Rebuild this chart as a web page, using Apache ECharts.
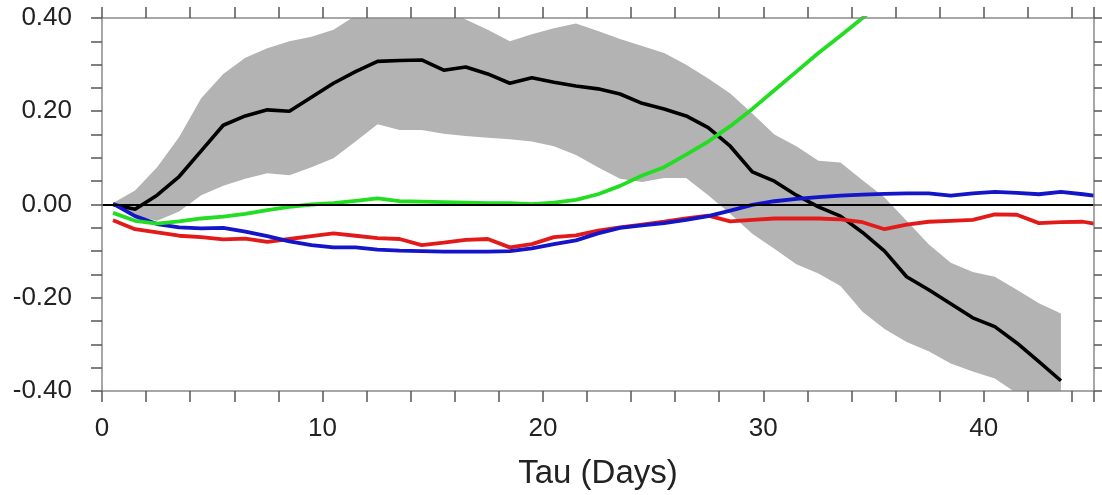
<!DOCTYPE html>
<html>
<head>
<meta charset="utf-8">
<script src="https://cdn.jsdelivr.net/npm/echarts@6/dist/echarts.min.js"></script>
<style>
  html, body { margin: 0; padding: 0; background: #fff; }
  #chart { width: 1102px; height: 495px; }
</style>
</head>
<body>
<div id="chart"></div>
<script>
// lag (days)
var tau = [0.5, 1.5, 2.5, 3.5, 4.5, 5.5, 6.5, 7.5, 8.5, 9.5,
	10.5, 11.5, 12.5, 13.5, 14.5, 15.5, 16.5, 17.5, 18.5, 19.5,
	20.5, 21.5, 22.5, 23.5, 24.5, 25.5, 26.5, 27.5, 28.5, 29.5,
	30.5, 31.5, 32.5, 33.5, 34.5, 35.5, 36.5, 37.5, 38.5, 39.5,
	40.5, 41.5, 42.5, 43.5, 44.5, 45];

var blackLine = [0.000, -0.010, 0.020, 0.060, 0.115, 0.170, 0.190, 0.203, 0.200, 0.230,
	0.260, 0.285, 0.307, 0.309, 0.310, 0.288, 0.295, 0.280, 0.260, 0.272,
	0.262, 0.254, 0.248, 0.237, 0.217, 0.205, 0.190, 0.165, 0.125, 0.070,
	0.050, 0.020, -0.005, -0.025, -0.060, -0.100, -0.155, -0.183, -0.213, -0.243,
	-0.262, -0.297, -0.337, -0.378];

var shadeUpper = [0.003, 0.030, 0.080, 0.145, 0.228, 0.280, 0.315, 0.335, 0.350, 0.360,
	0.375, 0.405, 0.430, 0.440, 0.440, 0.420, 0.397, 0.375, 0.350, 0.365,
	0.378, 0.388, 0.372, 0.355, 0.340, 0.325, 0.300, 0.270, 0.238, 0.195,
	0.150, 0.125, 0.094, 0.090, 0.052, 0.015, -0.035, -0.085, -0.125, -0.145,
	-0.155, -0.183, -0.212, -0.234];

var shadeLower = [-0.003, -0.025, -0.035, -0.015, 0.020, 0.040, 0.055, 0.067, 0.063, 0.080,
	0.099, 0.135, 0.172, 0.160, 0.160, 0.152, 0.147, 0.143, 0.140, 0.135,
	0.125, 0.106, 0.080, 0.055, 0.048, 0.057, 0.057, 0.020, -0.020, -0.063,
	-0.095, -0.128, -0.148, -0.175, -0.230, -0.267, -0.295, -0.315, -0.341, -0.358,
	-0.373, -0.405, -0.440, -0.470];

var greenLine = [-0.018, -0.035, -0.041, -0.036, -0.030, -0.026, -0.020, -0.012, -0.005, 0.000,
	0.003, 0.008, 0.013, 0.007, 0.006, 0.005, 0.004, 0.003, 0.003, 0.001,
	0.004, 0.010, 0.022, 0.040, 0.062, 0.080, 0.107, 0.135, 0.168, 0.205,
	0.245, 0.285, 0.325, 0.362, 0.400, 0.440];

var redLine = [-0.034, -0.053, -0.060, -0.067, -0.070, -0.075, -0.073, -0.080, -0.074, -0.068,
	-0.062, -0.067, -0.072, -0.074, -0.087, -0.082, -0.076, -0.074, -0.092, -0.085,
	-0.070, -0.066, -0.056, -0.049, -0.043, -0.037, -0.030, -0.024, -0.036, -0.033,
	-0.030, -0.030, -0.030, -0.032, -0.038, -0.053, -0.043, -0.037, -0.035, -0.033,
	-0.021, -0.022, -0.040, -0.038, -0.037, -0.041];

var blueLine = [0.002, -0.025, -0.042, -0.049, -0.051, -0.050, -0.058, -0.068, -0.079, -0.087,
	-0.092, -0.092, -0.097, -0.099, -0.100, -0.101, -0.101, -0.101, -0.100, -0.094,
	-0.085, -0.077, -0.062, -0.050, -0.045, -0.040, -0.033, -0.025, -0.013, -0.001,
	0.007, 0.012, 0.016, 0.019, 0.021, 0.023, 0.024, 0.024, 0.019, 0.024,
	0.027, 0.025, 0.022, 0.027, 0.022, 0.019];

function pairs(vals) {
	var out = [];
	for (var i = 0; i < vals.length; i++) out.push([tau[i], vals[i]]);
	return out;
}

var fontFam = '"Liberation Sans", Arial, Helvetica, sans-serif';
var axisCol = '#8a8a8a', tickCol = '#555';

var myChart = echarts.init(document.getElementById('chart'), null, { renderer: 'canvas' });

function xAx(pos, labels) {
	return {
		type: 'value', position: pos, min: 0, max: 45, interval: 2, z: 10,
		axisLine: { show: true, onZero: false, lineStyle: { color: axisCol, width: 1.5 } },
		axisTick: { show: true, inside: false, length: 11, lineStyle: { color: tickCol, width: 1.5 } },
		splitLine: { show: false },
		axisLabel: {
			show: labels, margin: 25, fontSize: 26, color: '#222', fontFamily: fontFam,
			formatter: function (v) { return v % 10 === 0 ? String(v) : ''; }
		},
		name: labels ? 'Tau (Days)' : '',
		nameLocation: 'middle', nameGap: 66,
		nameTextStyle: { fontSize: 33, color: '#222', fontFamily: fontFam }
	};
}

function yAx(pos, labels) {
	return {
		type: 'value', position: pos, min: -0.4, max: 0.4, interval: 0.05, z: 10,
		axisLine: { show: true, onZero: false, lineStyle: { color: axisCol, width: 1.5 } },
		axisTick: { show: true, inside: false, length: 11, lineStyle: { color: tickCol, width: 1.5 } },
		splitLine: { show: false },
		axisLabel: {
			show: labels, margin: 30, fontSize: 26, color: '#222', fontFamily: fontFam,
			formatter: function (v) {
				return Math.round(Math.abs(v) * 100) % 20 === 0 ? v.toFixed(2) : '';
			}
		}
	};
}

option = {
	animation: false,
	backgroundColor: '#fff',
	grid: { left: 102, right: 8, top: 18, bottom: 104 },
	xAxis: [xAx('bottom', true), xAx('top', false)],
	yAxis: [yAx('left', true), yAx('right', false)],
	series: [
		// gray band: upper bound filled down, then lower bound filled white
		{
			name: 'upper', type: 'line', data: pairs(shadeUpper), symbol: 'none',
			lineStyle: { width: 0, opacity: 0 },
			areaStyle: { color: '#b3b3b3', opacity: 1, origin: 'start' }
		},
		{
			name: 'lower', type: 'line', data: pairs(shadeLower), symbol: 'none',
			lineStyle: { width: 0, opacity: 0 },
			areaStyle: { color: '#ffffff', opacity: 1, origin: 'start' }
		},
		{
			name: 'zero', type: 'line', data: [], symbol: 'none',
			markLine: {
				silent: true, symbol: 'none', label: { show: false },
				lineStyle: { color: '#000', width: 2, type: 'solid' },
				data: [{ yAxis: 0 }]
			}
		},
		{
			name: 'black', type: 'line', data: pairs(blackLine), symbol: 'none',
			lineStyle: { color: '#000', width: 3.6 }
		},
		{
			name: 'red', type: 'line', data: pairs(redLine), symbol: 'none',
			lineStyle: { color: '#e21a1a', width: 3.8 }
		},
		{
			name: 'blue', type: 'line', data: pairs(blueLine), symbol: 'none',
			lineStyle: { color: '#1414c8', width: 3.8 }
		},
		{
			name: 'green', type: 'line', data: pairs(greenLine), symbol: 'none',
			lineStyle: { color: '#22dd22', width: 3.8 }
		}
	]
};

myChart.setOption(option);
</script>
</body>
</html>
